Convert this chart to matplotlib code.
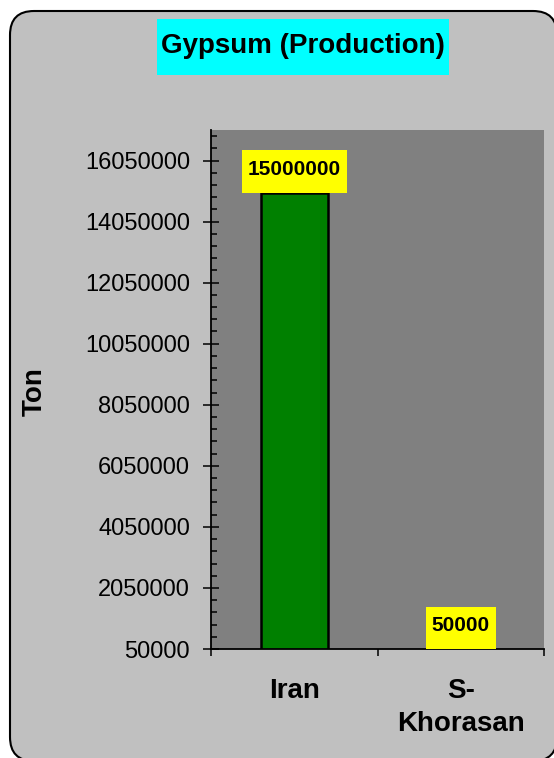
import numpy as np
import matplotlib
matplotlib.use("Agg")
import matplotlib.pyplot as plt
from matplotlib.patches import FancyBboxPatch
from matplotlib.path import Path
from matplotlib.ticker import FixedLocator, FixedFormatter

# ---- data ----
categories = ["Iran", "S-\nKhorasan"]
production = [15000000, 50000]
y_min, y_max, y_step, y_minor_step = 50000, 17050000, 2000000, 400000

title = "Gypsum (Production)"
y_label = "Ton"

FONT = "Liberation Sans"
BG = "#C0C0C0"
PLOT_BG = "#808080"
BAR = "#008000"

W, H, DPI = 554, 758, 100
fig = plt.figure(figsize=(W / DPI, H / DPI), dpi=DPI)
fig.patch.set_facecolor("white")


def make_box(px, pt, pb):
    """Rectangular label box with separate horizontal/top/bottom padding."""
    def style(x0, y0, width, height, mutation_size):
        l = x0 - px * mutation_size
        r = x0 + width + px * mutation_size
        b = y0 - pb * mutation_size
        t = y0 + height + pt * mutation_size
        return Path([(l, b), (r, b), (r, t), (l, t), (l, b)], closed=True)
    return style


# rounded light-grey chart panel
panel = FancyBboxPatch((10, -3), 547, H - 11 + 3,
                       boxstyle="round,pad=0,rounding_size=24",
                       transform=None, facecolor=BG, edgecolor="black",
                       linewidth=1.5, zorder=-5)
fig.patches.append(panel)

ax = fig.add_axes([211 / W, 1 - 649 / H, (544 - 211) / W, (649 - 130) / H])
ax.set_zorder(1)
ax.set_facecolor(PLOT_BG)

x = np.arange(len(categories))
ax.bar(x, production, width=0.4, color=BAR, edgecolor="black",
       linewidth=1.8, zorder=2)

ax.set_xlim(-0.5, len(categories) - 0.5)
ax.set_ylim(y_min, y_max)

# y axis ticks
majors = np.arange(y_min, y_max + 1, y_step)
minors = np.arange(y_min, y_max + 1, y_minor_step)
ax.yaxis.set_major_locator(FixedLocator(majors))
ax.yaxis.set_major_formatter(FixedFormatter([f"{int(v)}" for v in majors]))
ax.yaxis.set_minor_locator(FixedLocator(minors))
ax.tick_params(axis="y", which="major", direction="inout", length=12.2,
               width=1.1, color="black", pad=9, labelsize=17,
               labelcolor="black")
ax.tick_params(axis="y", which="minor", direction="in", length=4.5,
               width=1.1, color="black")
for lab in ax.get_yticklabels():
    lab.set_fontfamily(FONT)

# x axis: labels at category centres, ticks at category boundaries
ax.set_xticks(x)
ax.set_xticklabels(categories, fontfamily=FONT, fontweight="bold",
                   fontsize=20, linespacing=1.33)
ax.set_xticks(np.arange(len(categories) + 1) - 0.5, minor=True)
ax.tick_params(axis="x", which="major", length=0, pad=21)
ax.tick_params(axis="x", which="minor", direction="out", length=5,
               width=1.1, color="black")

for side in ("top", "right"):
    ax.spines[side].set_visible(False)
for side in ("left", "bottom"):
    ax.spines[side].set_color("black")
    ax.spines[side].set_linewidth(1.3)
ax.spines["left"].set_zorder(3)
ax.spines["bottom"].set_zorder(3)

# value labels
lab_fs = 15
pb = 0.65
for xi, v in zip(x, production):
    ax.annotate(f"{v}", (xi, v), xytext=(0, pb * lab_fs), textcoords="offset points",
                ha="center", va="bottom", fontsize=lab_fs, fontweight="bold",
                fontfamily=FONT, color="black", zorder=4,
                bbox=dict(boxstyle=make_box(0.28, 0.46, pb),
                          facecolor="yellow", edgecolor="none"))

ax.set_ylabel(y_label, fontfamily=FONT, fontweight="bold", fontsize=20)
ax.yaxis.set_label_coords(-0.49, 0.496)

# title on a cyan box
fig.text(303 / W, 1 - 53 / H, title, ha="center", va="baseline",
         fontsize=20, fontweight="bold", fontfamily=FONT, color="black",
         bbox=dict(boxstyle=make_box(0.16, 0.49, 0.58),
                   facecolor="#00FFFF", edgecolor="none"))

fig.savefig("out.png", dpi=DPI, facecolor=fig.get_facecolor())
